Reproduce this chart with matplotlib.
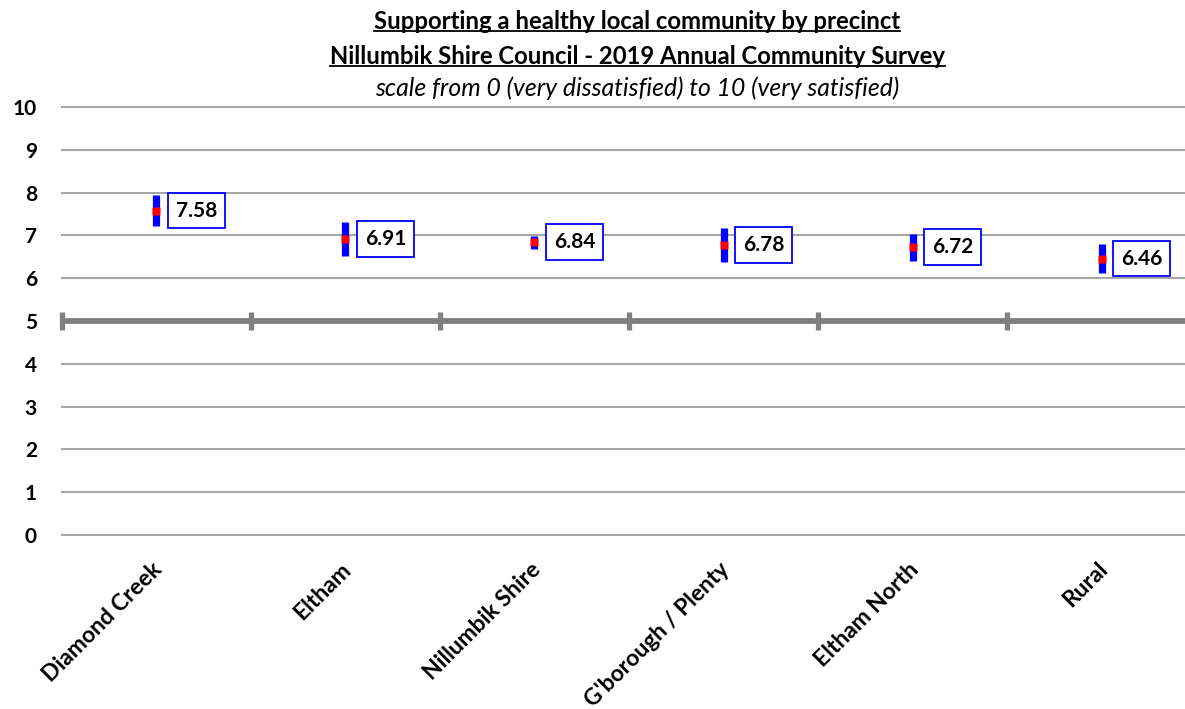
"""
Supporting a healthy local community by precinct - mean scores with 95% CI.
"""
import matplotlib
matplotlib.use('Agg')
import matplotlib.pyplot as plt
from matplotlib.lines import Line2D
from matplotlib.transforms import ScaledTranslation

precincts = ['Diamond Creek', 'Eltham', 'Nillumbik Shire',
             "G'borough / Plenty", 'Eltham North', 'Rural']
means = [7.58, 6.91, 6.84, 6.78, 6.72, 6.46]
ci_half = [0.36, 0.40, 0.15, 0.40, 0.31, 0.34]
y_ticks = [0, 1, 2, 3, 4, 5, 6, 7, 8, 9, 10]
benchmark = 5

plt.rcParams['font.family'] = ['Lato', 'DejaVu Sans']

fig = plt.figure(figsize=(11.85, 7.09), dpi=100)
ax = fig.add_axes([0.0523, 0.2454, 0.957, 0.6037])

x = list(range(len(precincts)))
ax.set_xlim(-0.5, len(precincts) - 0.5)
ax.set_ylim(0, 10)

# horizontal gridlines
for yv in y_ticks:
    ax.axhline(yv, color='#A6A6A6', lw=1.5, zorder=1, clip_on=False)

# benchmark line at 5 with category separators
ax.axhline(benchmark, color='#808080', lw=4.2, zorder=2)
for b in [i - 0.5 for i in x]:
    ax.plot([b, b], [benchmark - 0.2, benchmark + 0.2], color='#808080',
            lw=3.8, solid_capstyle='butt', zorder=2, clip_on=False)

# error bars and means
ax.errorbar(x, means, yerr=ci_half, fmt='none', ecolor='#0000FF',
            elinewidth=5.2, capsize=0, zorder=3)
ax.plot(x, means, 's', color='#FF0000', ms=5.2, mec='none', zorder=4)

for xi, m in zip(x, means):
    ax.annotate(f'{m:.2f}', xy=(xi, m), xytext=(29, 0),
                textcoords='offset points', ha='center', va='center',
                fontsize=15, fontweight='bold', color='black',
                bbox=dict(boxstyle='square,pad=0.38', fc='white',
                          ec='#0000FF', lw=1.3), zorder=5)

for s in ax.spines.values():
    s.set_visible(False)

ax.set_yticks(y_ticks)
ax.set_yticklabels([str(v) for v in y_ticks], fontsize=15, fontweight='bold')
ax.tick_params(axis='y', length=0, pad=18)

ax.set_xticks(x)
ax.set_xticklabels(precincts, rotation=45, ha='right', va='top',
                   rotation_mode='anchor', fontsize=16.5, fontweight='bold')
ax.tick_params(axis='x', length=0, pad=17)
for lbl in ax.get_xticklabels():
    lbl.set_transform(lbl.get_transform() +
                      ScaledTranslation(-3.5 / 72, 0, fig.dpi_scale_trans))

# titles
cx = 0.5376
t1 = fig.text(cx, 0.970, 'Supporting a healthy local community by precinct',
              ha='center', va='center', fontsize=17.2, fontweight='bold')
t2 = fig.text(cx, 0.921, 'Nillumbik Shire Council - 2019 Annual Community Survey',
              ha='center', va='center', fontsize=17.2, fontweight='bold')
fig.text(cx, 0.876, 'scale from 0 (very dissatisfied) to 10 (very satisfied)',
         ha='center', va='center', fontsize=17.8, style='italic')

# underline the first two title lines
fig.canvas.draw()
r = fig.canvas.get_renderer()
for t in (t1, t2):
    bb = t.get_window_extent(r)
    yl = (bb.y0 + 2) / fig.bbox.height
    fig.add_artist(Line2D([bb.x0 / fig.bbox.width, bb.x1 / fig.bbox.width],
                          [yl, yl], color='black', lw=1.3))

fig.savefig('out.png', dpi=100)
